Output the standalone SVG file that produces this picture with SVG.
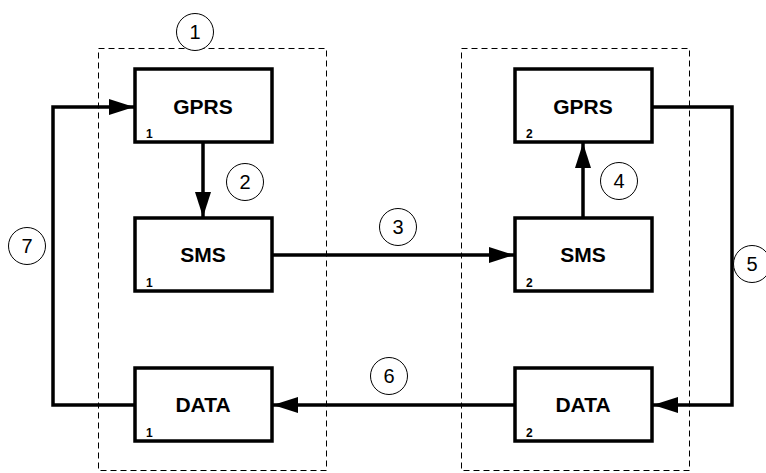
<svg xmlns="http://www.w3.org/2000/svg" width="766" height="473" viewBox="0 0 766 473">
<style>
.grp{fill:none;stroke:#000;stroke-width:1;stroke-dasharray:6,4}
.box{fill:#fff;stroke:#000;stroke-width:3.5}
.lbl{font-family:"Liberation Sans",Arial,sans-serif;font-weight:bold;font-size:21px;text-anchor:middle}
.sub{font-family:"Liberation Sans",Arial,sans-serif;font-weight:bold;font-size:12px}
.conn{fill:none;stroke:#000;stroke-width:3.5}
.num circle{fill:#fff;stroke:#000;stroke-width:1}
.num text{font-family:"Liberation Sans",Arial,sans-serif;font-size:20px;text-anchor:middle}
</style>
<defs>
<marker id="ah" markerUnits="userSpaceOnUse" markerWidth="26" markerHeight="18" refX="25" refY="8" orient="auto" viewBox="0 0 26 16">
<path d="M0,0 L25,8 L0,16 Z" fill="#000"/>
</marker>
</defs>
<rect class="grp" x="98.5" y="48.5" width="228" height="422"/>
<rect class="grp" x="461.5" y="48.5" width="228" height="422"/>
<g id="connectors">
<path class="conn" d="M203,142 V217" marker-end="url(#ah)"/>
<path class="conn" d="M272,255 H514" marker-end="url(#ah)"/>
<path class="conn" d="M583,218 V143" marker-end="url(#ah)"/>
<path class="conn" d="M652,107 H732 V405 H653" marker-end="url(#ah)"/>
<path class="conn" d="M515,405 H273" marker-end="url(#ah)"/>
<path class="conn" d="M135,405 H53 V107 H134" marker-end="url(#ah)"/>
</g>
<g id="gprs1"><rect class="box" x="135" y="69" width="137" height="73"/><text class="lbl" x="203" y="114">GPRS</text><text class="sub" x="146" y="138">1</text></g>
<g id="sms1"><rect class="box" x="135" y="218" width="137" height="73"/><text class="lbl" x="203" y="262">SMS</text><text class="sub" x="146" y="287">1</text></g>
<g id="data1"><rect class="box" x="135" y="368" width="137" height="73"/><text class="lbl" x="203" y="412">DATA</text><text class="sub" x="146" y="437">1</text></g>
<g id="gprs2"><rect class="box" x="515" y="69" width="137" height="73"/><text class="lbl" x="583" y="114">GPRS</text><text class="sub" x="526" y="138">2</text></g>
<g id="sms2"><rect class="box" x="515" y="218" width="137" height="73"/><text class="lbl" x="583" y="262">SMS</text><text class="sub" x="526" y="287">2</text></g>
<g id="data2"><rect class="box" x="515" y="368" width="137" height="73"/><text class="lbl" x="583" y="412">DATA</text><text class="sub" x="526" y="437">2</text></g>
<g class="num" id="n1"><circle cx="195" cy="32" r="18.5"/><text x="195" y="39">1</text></g>
<g class="num" id="n2"><circle cx="245" cy="182" r="18.5"/><text x="245" y="189">2</text></g>
<g class="num" id="n3"><circle cx="398" cy="227" r="18.5"/><text x="398" y="234">3</text></g>
<g class="num" id="n4"><circle cx="619" cy="181" r="18.5"/><text x="619" y="188">4</text></g>
<g class="num" id="n5"><circle cx="752" cy="264" r="18.5"/><text x="752" y="271">5</text></g>
<g class="num" id="n6"><circle cx="389" cy="376" r="18.5"/><text x="389" y="383">6</text></g>
<g class="num" id="n7"><circle cx="27" cy="246" r="18.5"/><text x="27" y="253">7</text></g>
</svg>
